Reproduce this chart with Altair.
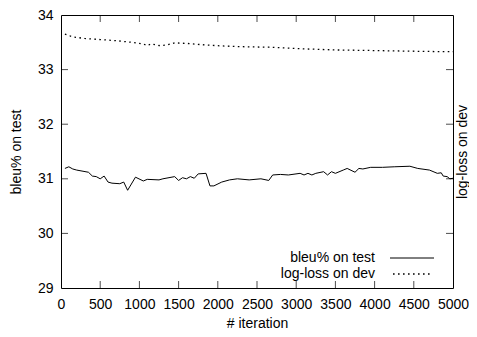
import altair as alt
import pandas as pd

# ---- data ----
bleu_iter = [50, 100, 150, 200, 350, 400, 450, 500, 550, 600, 650, 750, 800, 850,
             950, 1050, 1100, 1250, 1300, 1450, 1500, 1550, 1600, 1650, 1700, 1750,
             1850, 1900, 1950, 2050, 2150, 2250, 2400, 2550, 2650, 2700, 2800, 2900,
             3050, 3100, 3150, 3200, 3250, 3350, 3400, 3450, 3500, 3600, 3650, 3750,
             3800, 3850, 3950, 4100, 4250, 4450, 4550, 4700, 4800, 4850, 4875, 4925,
             4960, 5000]
bleu_vals = [31.19, 31.22, 31.18, 31.16, 31.12, 31.05, 31.04, 31.00, 31.05, 30.94,
             30.92, 30.91, 30.94, 30.79, 31.03, 30.96, 30.99, 30.98, 31.00, 31.04,
             30.97, 31.02, 31.00, 31.04, 31.01, 31.09, 31.10, 30.87, 30.87, 30.94,
             30.98, 31.00, 30.98, 31.00, 30.97, 31.07, 31.08, 31.07, 31.10, 31.07,
             31.10, 31.07, 31.10, 31.13, 31.07, 31.13, 31.10, 31.16, 31.19, 31.12,
             31.19, 31.18, 31.21, 31.21, 31.22, 31.23, 31.19, 31.16, 31.10, 31.11,
             31.05, 31.04, 31.00, 31.01]

dev_iter = [50, 150, 300, 500, 700, 900, 1050, 1100, 1150, 1250, 1350, 1450, 1600,
            1850, 2100, 2300, 2650, 3100, 3500, 3950, 4350, 4800, 5000]
dev_vals = [33.65, 33.60, 33.57, 33.55, 33.53, 33.50, 33.47, 33.44, 33.47, 33.44,
            33.45, 33.49, 33.48, 33.45, 33.43, 33.42, 33.41, 33.38, 33.36, 33.35,
            33.34, 33.33, 33.33]

x_ticks = [0, 500, 1000, 1500, 2000, 2500, 3000, 3500, 4000, 4500, 5000]
y_ticks = [29, 30, 31, 32, 33, 34]
series_names = ["bleu% on test", "log-loss on dev"]

W, H = 392, 273
FONT = "Liberation Sans"
FS = 14
TL = 7  # inward tick length

bleu_df = pd.DataFrame({"iteration": bleu_iter, "value": bleu_vals})
dev_df = pd.DataFrame({"iteration": dev_iter, "value": dev_vals})
xt_df = pd.DataFrame({"iteration": x_ticks[1:-1]})
yt_df = pd.DataFrame({"value": y_ticks[1:-1]})

xscale = alt.Scale(domain=[0, 5000], nice=False, zero=False)
yscale = alt.Scale(domain=[29, 34], nice=False, zero=False)

common = dict(grid=False, ticks=False, domain=False, labelFont=FONT, titleFont=FONT,
              labelFontSize=FS, titleFontSize=FS, labelColor="black",
              titleColor="black", titleFontWeight="normal", labelOverlap=False,
              labelFlush=False)

xaxis = alt.Axis(values=x_ticks, title="# iteration", labelPadding=9, titleY=35,
                 titleBaseline="middle", format="d", **common)
yaxis = alt.Axis(values=y_ticks, title="bleu% on test", labelPadding=8, titleX=-45,
                 titleY=H / 2, titleAngle=270, titleBaseline="middle",
                 titleAlign="center", **common)

X = alt.X("iteration:Q", scale=xscale, axis=xaxis)
Y = alt.Y("value:Q", scale=yscale, axis=yaxis)

bleu_line = alt.Chart(bleu_df).mark_line(color="black", strokeWidth=1).encode(x=X, y=Y)

xt_bottom = alt.Chart(xt_df).mark_tick(color="black", size=TL, thickness=1,
                                       orient="vertical").encode(x=X, y=alt.value(H - TL / 2))
xt_top = alt.Chart(xt_df).mark_tick(color="black", size=TL, thickness=1,
                                    orient="vertical").encode(x=X, y=alt.value(TL / 2))
yt_left = alt.Chart(yt_df).mark_tick(color="black", size=TL, thickness=1,
                                     orient="horizontal").encode(y=Y, x=alt.value(TL / 2))
yt_right = alt.Chart(yt_df).mark_tick(color="black", size=TL, thickness=1,
                                      orient="horizontal").encode(y=Y, x=alt.value(W - TL / 2))

# legend (inside, bottom right, gnuplot style: label then sample)
leg_x_text = 314
leg_y = [243, 259]
leg_text1 = alt.Chart(pd.DataFrame({"t": [series_names[0]]})).mark_text(
    align="right", baseline="middle", font=FONT, fontSize=FS, color="black"
).encode(text="t:N", x=alt.value(leg_x_text), y=alt.value(leg_y[0]))
leg_text2 = alt.Chart(pd.DataFrame({"t": [series_names[1]]})).mark_text(
    align="right", baseline="middle", font=FONT, fontSize=FS, color="black"
).encode(text="t:N", x=alt.value(leg_x_text), y=alt.value(leg_y[1]))
leg_line1 = alt.Chart(pd.DataFrame({"t": [series_names[0]]})).mark_rule(
    color="black", strokeWidth=1
).encode(x=alt.value(329), x2=alt.value(373), y=alt.value(leg_y[0]))
leg_line2 = alt.Chart(pd.DataFrame({"t": [series_names[1]]})).mark_rule(
    color="black", strokeWidth=1.3, strokeDash=[1.6, 3.4]
).encode(x=alt.value(332), x2=alt.value(372), y=alt.value(leg_y[1]))

left = alt.layer(bleu_line, xt_bottom, xt_top, yt_left, yt_right,
                 leg_text1, leg_text2, leg_line1, leg_line2)

dev_line = alt.Chart(dev_df).mark_line(
    color="black", strokeWidth=1.3, strokeDash=[1.6, 3.4]
).encode(
    x=X,
    y=alt.Y("value:Q", scale=yscale,
            axis=alt.Axis(orient="right", labels=False, title="log-loss on dev",
                          titleX=9, titleY=H / 2, titleAngle=270,
                          titleBaseline="middle", titleAlign="center", **common)),
)

chart = alt.layer(left, dev_line).resolve_scale(y="independent").properties(
    width=W, height=H,
    background="white",
    autosize=alt.AutoSizeParams(type="none"),
    padding={"left": 53, "top": 7, "right": 16, "bottom": 41},
).configure_view(
    stroke="black", strokeWidth=1
)

chart.save("out.html", embed_options={"renderer": "svg", "actions": False})
